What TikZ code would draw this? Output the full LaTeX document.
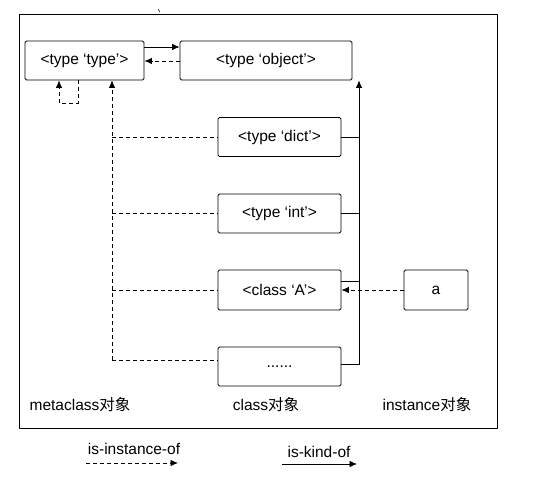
\documentclass[tikz,border=0pt]{standalone}
\usepackage{fontspec}
\setmainfont{Liberation Sans}
\newfontfamily\cjk{Noto Sans CJK SC}
\usetikzlibrary{arrows.meta}
\tikzset{
  box/.style={draw, rounded corners=1.5pt, inner sep=0pt, minimum width=123pt, minimum height=39pt},
  isinst/.style={dash pattern=on 4pt off 3pt},
}
\begin{document}
\begin{tikzpicture}[x=1pt, y=-1pt, line width=0.8pt, font=\fontsize{15.5}{18}\selectfont, line join=round, >={Latex[length=7.5pt,width=6.5pt]}]
	\useasboundingbox (0,0) rectangle (540,482);
	\draw (19,14) rectangle (497,428);
	\draw[line width=0.5pt] (158,9) -- (160,12);
	% metaclass and base
	\node[box, minimum width=119pt] (type) at (84.5,60.5) {<type ‘type’>};
	\node[box, minimum width=172pt] (object) at (266,60.5) {<type ‘object’>};
	% classes
	\node[box] (dict) at (279.5,137) {<type ‘dict’>};
	\node[box] (int) at (279.5,213.5) {<type ‘int’>};
	\node[box, minimum height=40pt] (A) at (279.5,290) {<class ‘A’>};
	\node[box] (dots) at (279.5,366.5) {......};
	\node[box, minimum width=64pt, minimum height=40pt] (a) at (436,290) {a};
	% is-kind-of
	\draw[->] (type.east |- 0,47) -- (object.west |- 0,47);
	\coordinate (kbot) at (359,364);
	\draw[->] (dots.east |- kbot) -- (kbot) -- (kbot |- object.south);
	\draw (dict.east) -- (dict.east -| kbot);
	\draw (int.east) -- (int.east -| kbot);
	\draw (A.east |- 0,281) -- (kbot |- 0,281);
	% is-instance-of
	\draw[isinst, ->] (object.west |- 0,61) -- (type.east |- 0,61);
	\draw[isinst, ->] (type.south -| 78,0) -- (78,103) -- (59,103) -- (type.south -| 59,0);
	\coordinate (ibot) at (112,360);
	\draw[isinst, ->] (ibot) -- (ibot |- type.south);
	\draw[isinst] (ibot |- dict.west) -- (dict.west);
	\draw[isinst] (ibot |- int.west) -- (int.west);
	\draw[isinst] (ibot |- A.west) -- (A.west);
	\draw[isinst] (ibot) -- (dots.west |- ibot);
	\draw[isinst, ->] (a.west) -- (A.east);
	% layer labels
	\node (meta) at (80,405) {metaclass{\cjk 对象}};
	\node (cls) at (266,405) {class{\cjk 对象}};
	\node (inst) at (427,405) {instance{\cjk 对象}};
	% legend
	\node (linst) at (134,449) {is-instance-of};
	\coordinate (li1) at (86,463);
	\coordinate (li2) at (178,463);
	\draw[isinst, ->] (li1) -- (li2);
	\node (lkind) at (319,452) {is-kind-of};
	\coordinate (lk1) at (282,464);
	\coordinate (lk2) at (357,464);
	\draw[->] (lk1) -- (lk2);
\end{tikzpicture}
\end{document}
